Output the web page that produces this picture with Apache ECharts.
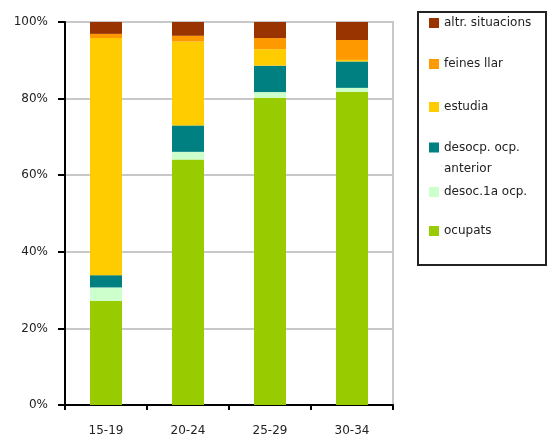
<!DOCTYPE html>
<html><head><meta charset="utf-8">
<script src="https://cdn.jsdelivr.net/npm/echarts@6/dist/echarts.min.js"></script>
<style>html,body{margin:0;padding:0;background:#fff}#c{width:550px;height:438px}</style>
</head><body><div id="c"></div>
<script>
const categories = ['15-19', '20-24', '25-29', '30-34'];
const ocupats = [27.2, 64.1, 80.2, 81.8];
const desoc1a = [3.5, 2.0, 1.5, 1.0];
const desocpAnterior = [3.2, 6.9, 6.9, 6.9];
const estudia = [61.9, 21.9, 4.3, 0.4];
const feinesLlar = [1.1, 1.5, 2.9, 5.2];
const altrSituacions = [3.1, 3.6, 4.2, 4.7];
const yTicks = [0, 20, 40, 60, 80, 100];

const seriesDefs = [
  {name: 'ocupats', data: ocupats, color: '#99CC00'},
  {name: 'desoc.1a ocp.', data: desoc1a, color: '#CCFFCC'},
  {name: 'desocp. ocp.\nanterior', data: desocpAnterior, color: '#008080'},
  {name: 'estudia', data: estudia, color: '#FFCC00'},
  {name: 'feines llar', data: feinesLlar, color: '#FF9900'},
  {name: 'altr. situacions', data: altrSituacions, color: '#993300'}
];
const legendCenters = {'altr. situacions': 23, 'feines llar': 64, 'estudia': 107, 'desocp. ocp.\nanterior': 147, 'desoc.1a ocp.': 192, 'ocupats': 231};
const font = 'DejaVu Sans';
const legends = seriesDefs.map(s => {
  const multi = s.name.indexOf('\n') >= 0;
  return {
    orient: 'vertical', left: 429, top: multi ? legendCenters[s.name] - 31 : legendCenters[s.name] - 7,
    padding: 0, itemWidth: 10, itemHeight: 10, icon: 'rect', selectedMode: false,
    data: [{name: s.name}],
    formatter: n => multi ? '\n' + n : n,
    textStyle: multi ? {fontFamily: font, fontSize: 12, color: '#222', lineHeight: 21}
                     : {fontFamily: font, fontSize: 12, color: '#222', lineHeight: 14}
  };
});
const chart = echarts.init(document.getElementById('c'), null, {renderer: 'canvas'});
chart.setOption({
  animation: false,
  backgroundColor: '#fff',
  grid: {left: 65, right: 157, top: 22, bottom: 33, show: true, borderColor: '#c8c8c8', borderWidth: 2},
  legend: legends,
  graphic: [{type: 'rect', shape: {x: 418, y: 12, width: 128, height: 253}, style: {fill: 'none', stroke: '#222', lineWidth: 2}}],
  xAxis: {
    type: 'category', data: categories,
    axisLine: {lineStyle: {color: '#000', width: 2}},
    axisTick: {show: true, length: 5, lineStyle: {color: '#000', width: 2}},
    axisLabel: {fontFamily: font, fontSize: 12, color: '#222', margin: 20}
  },
  yAxis: {
    type: 'value', min: 0, max: 100, interval: 20,
    axisLine: {show: true, lineStyle: {color: '#000', width: 2}},
    axisTick: {show: true, length: 7, lineStyle: {color: '#000', width: 2}},
    axisLabel: {fontFamily: font, fontSize: 12, color: '#222', margin: 17,
      formatter: v => yTicks.indexOf(v) >= 0 ? v + '%' : ''},
    splitLine: {lineStyle: {color: '#c8c8c8', width: 2}}
  },
  series: seriesDefs.map(s => ({
    name: s.name, type: 'bar', stack: 'total', barWidth: 32, data: s.data,
    itemStyle: {color: s.color}, emphasis: {disabled: true}
  }))
});
</script></body></html>
